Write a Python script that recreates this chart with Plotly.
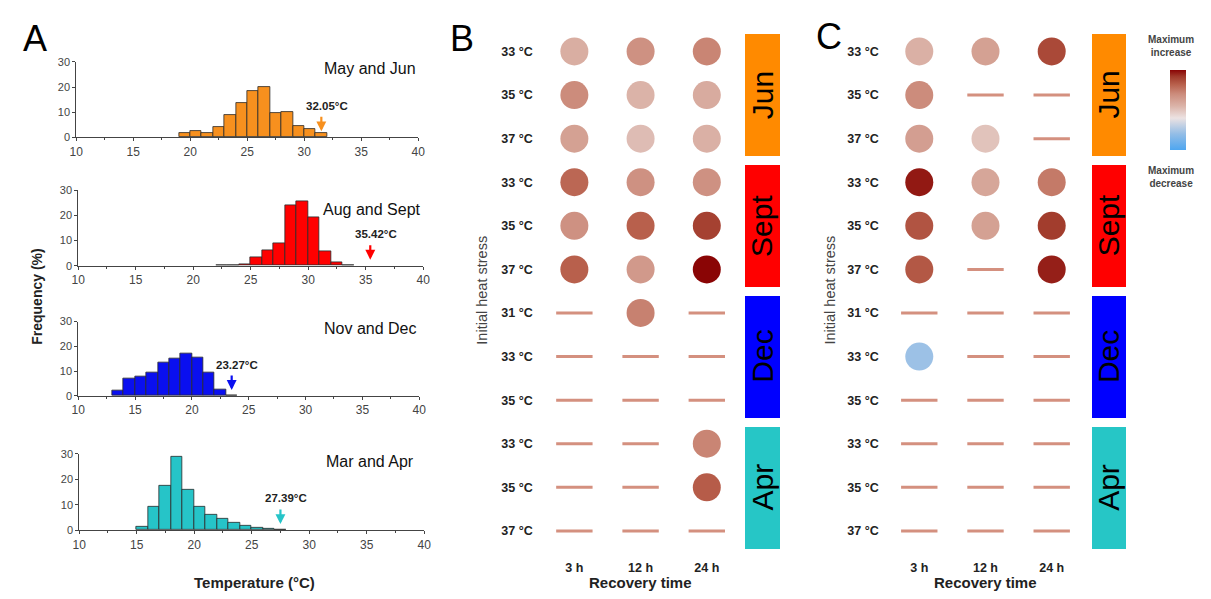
import plotly.graph_objects as go

W, H = 1211, 599          # reference picture size
OFF = 8                   # default page (body) margin around the plot div
FW, FH = W - 2 * OFF, H - 2 * OFF
FONT = "Arial, Liberation Sans, sans-serif"

# ---------------- Panel A data (histograms, 1 °C bins) ----------------
hist_titles = ["May and Jun", "Aug and Sept", "Nov and Dec", "Mar and Apr"]
hist_colors = ["#f7901e", "#ff0000", "#0a0ff0", "#26c4c8"]
hist_bin_start = [19, 22, 13, 15]
may_jun = [1.8, 2.6, 1.9, 4.1, 8.8, 13.8, 18.6, 19.9, 9.6, 10.1, 4.4, 3.5, 1.7]
aug_sep = [0.2, 0.2, 0.7, 3.5, 6.0, 9.0, 24.0, 25.5, 19.4, 5.8, 1.3, 0.3]
nov_dec = [2.0, 6.9, 8.0, 9.3, 13.6, 15.0, 17.3, 15.6, 9.3, 2.6, 0.3]
mar_apr = [1.3, 9.3, 17.5, 28.7, 15.7, 9.3, 6.0, 4.5, 2.8, 1.7, 1.0, 0.5, 0.25]
hist_values = [may_jun, aug_sep, nov_dec, mar_apr]
arrow_x = [31.5, 35.4, 23.5, 27.5]
arrow_labels = ["32.05°C", "35.42°C", "23.27°C", "27.39°C"]

# ---------------- Panels B / C data ----------------
row_labels = ["33 °C", "35 °C", "37 °C", "33 °C", "35 °C", "37 °C",
              "31 °C", "33 °C", "35 °C", "33 °C", "35 °C", "37 °C"]
recovery = ["3 h", "12 h", "24 h"]
months = ["Jun", "Sept", "Dec", "Apr"]
month_colors = ["#ff8a00", "#ff0000", "#0000ff", "#26c6c6"]
# colour-scale position (0 = max decrease, 1 = max increase); None = no change (dash)
b_values = [
    [0.57, 0.68, 0.72],
    [0.70, 0.55, 0.58],
    [0.62, 0.52, 0.56],
    [0.80, 0.68, 0.68],
    [0.68, 0.82, 0.90],
    [0.82, 0.65, 1.00],
    [None, 0.73, None],
    [None, None, None],
    [None, None, None],
    [None, None, 0.72],
    [None, None, 0.83],
    [None, None, None],
]
c_values = [
    [0.56, 0.62, 0.88],
    [0.70, None, None],
    [0.63, 0.50, None],
    [0.97, 0.60, 0.75],
    [0.85, 0.62, 0.91],
    [0.84, None, 0.96],
    [None, None, None],
    [0.22, None, None],
    [None, None, None],
    [None, None, None],
    [None, None, None],
    [None, None, None],
]

colorscale = [
    [0.0, "#4ea6f0"], [0.2, "#93bde6"], [0.4, "#ece2e2"], [0.55, "#dbb3a8"],
    [0.7, "#cc8c7c"], [0.82, "#b8604c"], [0.92, "#a0392a"], [1.0, "#8a0505"],
]


def px(x):
    return (x - OFF) / FW


def py(y):
    return 1 - (y - OFF) / FH


def paper_text(text, x, y, size, color="#222", angle=0):
    return dict(text=text, x=px(x), y=py(y), xref="paper", yref="paper",
                xanchor="center", yanchor="middle", textangle=angle,
                showarrow=False, font=dict(size=size, color=color))


fig = go.Figure()
layout = dict(
    width=FW, height=FH, margin=dict(l=0, r=0, t=0, b=0),
    paper_bgcolor="white", plot_bgcolor="white", showlegend=False,
    font=dict(family=FONT, color="#222"),
    bargap=0,
)
annotations = []

# histogram axis placement (pixels): x of 10 / 40, y of 0 / 30
hist_geom = [(70, 416, 134, 57), (72, 421, 265, 188), (72, 417, 398, 322), (73, 422, 535, 457)]
title_y = [0.91, 0.74, 0.91, 0.90]
title_x = [1.0, 1.0, 1.0, 0.975]

for i in range(4):
    xa = "x" if i == 0 else f"x{i + 1}"
    ya = "y" if i == 0 else f"y{i + 1}"
    xl = "xaxis" if i == 0 else f"xaxis{i + 1}"
    yl = "yaxis" if i == 0 else f"yaxis{i + 1}"
    vals = hist_values[i]
    centers = [hist_bin_start[i] + k + 0.5 for k in range(len(vals))]
    fig.add_trace(go.Bar(
        x=centers, y=vals, width=1.0, xaxis=xa, yaxis=ya,
        marker=dict(color=hist_colors[i], line=dict(color="#2a2a2a", width=0.8)),
        hoverinfo="skip",
    ))
    x0p, x1p, y0p, y1p = hist_geom[i]
    layout[xl] = dict(
        domain=[px(x0p), px(x1p)], range=[10, 40], anchor=ya,
        tickvals=[10, 15, 20, 25, 30, 35, 40], ticks="outside", ticklen=3,
        tickcolor="#444", showline=True, linecolor="#444", linewidth=1,
        showgrid=False, zeroline=False, tickfont=dict(size=12, color="#444"),
        minor=dict(dtick=2.5, tick0=10, ticks="outside", ticklen=2, tickcolor="#444"),
        fixedrange=True,
    )
    layout[yl] = dict(
        domain=[py(y0p), py(y1p)], range=[0, 30], anchor=xa,
        tickvals=[0, 10, 20, 30], ticks="outside", ticklen=3, tickcolor="#444",
        showline=True, linecolor="#444", linewidth=1, showgrid=False, zeroline=False,
        tickfont=dict(size=11, color="#444"), fixedrange=True,
    )
    annotations.append(dict(
        text=hist_titles[i], xref=f"{xa} domain", yref=f"{ya} domain",
        x=title_x[i], y=title_y[i], xanchor="right", yanchor="middle",
        showarrow=False, font=dict(size=16, color="#111"),
    ))
    annotations.append(dict(
        x=arrow_x[i], y=2.4, xref=xa, yref=ya, text="", showarrow=True,
        ax=0, ay=-16, arrowhead=2, arrowsize=0.9, arrowwidth=2.2,
        arrowcolor=hist_colors[i],
    ))
    annotations.append(dict(
        x=arrow_x[i] + 0.5, y=12.5, xref=xa, yref=ya, text=f"<b>{arrow_labels[i]}</b>",
        xanchor="center", yanchor="middle",
        showarrow=False, font=dict(size=11.5, color="#222"),
    ))

annotations.append(paper_text("<b>Frequency (%)</b>", 30, 297, 14, angle=-90))
annotations.append(paper_text("<b>Temperature (°C)</b>", 250, 588, 15))

# ---------------- Panels B and C ----------------
panel_geom = {
    # axis id: (first column px, domain left px, domain right px, month bar x0, x1 px)
    5: (574, 540, 790, 746, 782),
    6: (923, 890, 1140, 1097, 1132),
}
col_step = 67.0
row_top_px, row_bottom_px = 24, 558
dash_color = "#d4907f"

for ax_id, values in ((5, b_values), (6, c_values)):
    xa, ya = f"x{ax_id}", f"y{ax_id}"
    c0, dl, dr, mb0, mb1 = panel_geom[ax_id]
    cx, cy, cc, dx, dy = [], [], [], [], []
    for r, row in enumerate(values):
        for c, v in enumerate(row):
            if v is None:
                dx.append(c)
                dy.append(r)
            else:
                cx.append(c)
                cy.append(r)
                cc.append(v)
    fig.add_trace(go.Scatter(
        x=dx, y=dy, mode="markers", xaxis=xa, yaxis=ya, hoverinfo="skip",
        marker=dict(symbol="line-ew", size=26, line=dict(color=dash_color, width=3)),
    ))
    fig.add_trace(go.Scatter(
        x=cx, y=cy, mode="markers", xaxis=xa, yaxis=ya, hoverinfo="skip",
        marker=dict(size=28, color=cc, coloraxis="coloraxis", line=dict(width=0)),
    ))
    # month bars
    bx0 = (mb0 - c0) / col_step
    bx1 = (mb1 - c0) / col_step
    fig.add_trace(go.Bar(
        y=[1, 4, 7, 10], x=[bx1 - bx0] * 4, base=[bx0] * 4, orientation="h",
        width=2.8, xaxis=xa, yaxis=ya, hoverinfo="skip",
        marker=dict(color=month_colors, line=dict(width=0)),
    ))
    for m, name in enumerate(months):
        annotations.append(dict(
            text=name, x=(bx0 + bx1) / 2, y=1 + 3 * m, xref=xa, yref=ya,
            xanchor="center", yanchor="middle",
            textangle=-90, showarrow=False, font=dict(size=30, color="black"),
        ))
    layout[f"xaxis{ax_id}"] = dict(
        domain=[px(dl), px(dr)], range=[(dl - c0) / col_step, (dr - c0) / col_step],
        anchor=ya, tickvals=[0, 1, 2], ticktext=[f"<b>{t}</b>" for t in recovery],
        ticks="", showline=False, showgrid=False, zeroline=False,
        tickfont=dict(size=12.5, color="#222"), ticklabelstandoff=6, fixedrange=True,
    )
    layout[f"yaxis{ax_id}"] = dict(
        domain=[py(row_bottom_px), py(row_top_px)], range=[11.5, -0.5], anchor=xa,
        tickvals=list(range(12)), ticktext=[f"<b>{t}</b>" for t in row_labels],
        ticks="", showline=False, showgrid=False, zeroline=False,
        tickfont=dict(size=12.5, color="#222"), ticklabelstandoff=7, fixedrange=True,
    )
    annotations.append(paper_text("<b>Recovery time</b>", c0 + col_step, 588, 15))

annotations.append(paper_text("Initial heat stress", 481, 290, 14.5, color="#444", angle=-90))
annotations.append(paper_text("Initial heat stress", 833, 290, 14.5, color="#444", angle=-90))

for letter, lx, ly in (("A", 28, 33), ("B", 460, 33), ("C", 832, 31)):
    annotations.append(paper_text(letter, lx, ly, 36, color="black"))

annotations.append(paper_text("<b>Maximum<br>increase</b>", 1178, 41, 10, color="#444"))
annotations.append(paper_text("<b>Maximum<br>decrease</b>", 1178, 174, 10, color="#444"))

layout["coloraxis"] = dict(
    colorscale=colorscale, cmin=0, cmax=1,
    colorbar=dict(
        x=px(1177), xanchor="left", y=py(65), yanchor="top",
        len=82 / FH, lenmode="fraction", thickness=16, thicknessmode="pixels",
        showticklabels=False, ticks="", outlinewidth=0, xpad=0, ypad=0,
    ),
)
layout["annotations"] = annotations
fig.update_layout(**layout)

fig.write_html("out.html", config={"displayModeBar": False})
